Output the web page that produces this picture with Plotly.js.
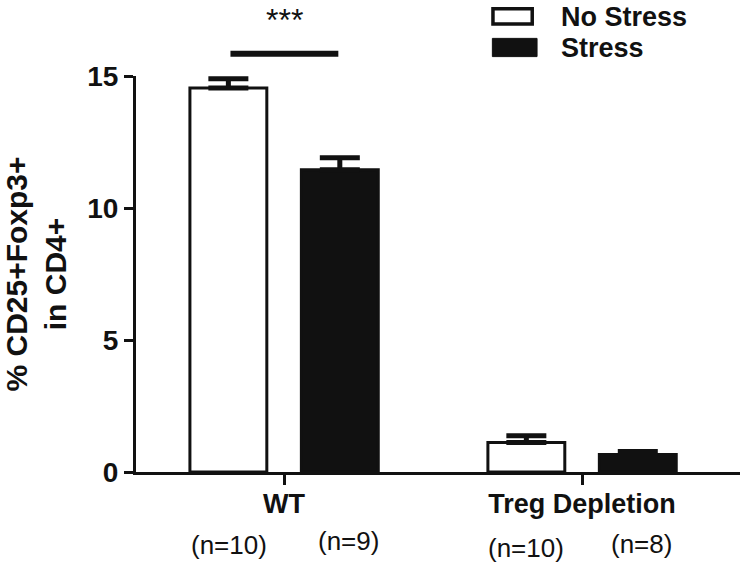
<!DOCTYPE html>
<html>
<head>
<meta charset="utf-8">
<script src="https://cdn.plot.ly/plotly-3.0.1.min.js"></script>
<style>html,body{margin:0;padding:0;background:#fff;}#chart{width:740px;height:569px;}</style>
</head>
<body>
<div id="chart"></div>
<script>
var categories = ["WT", "Treg Depletion"];
var seriesNames = ["No Stress", "Stress"];
var noStress = [14.55, 1.12];
var noStressErr = [0.35, 0.25];
var stress = [11.45, 0.66];
var stressErr = [0.45, 0.12];
var nLabels = [["(n=10)", "(n=9)"], ["(n=10)", "(n=8)"]];
var yTicks = [0, 5, 10, 15];
var sigLabel = "***";

var F = "Liberation Sans, Arial, sans-serif";

var traces = [
  {
    type: "bar", name: seriesNames[0], x: categories, y: noStress,
    marker: {color: "#ffffff", line: {color: "#111", width: 3}},
    error_y: {type: "data", array: noStressErr, arrayminus: [0, 0], symmetric: false, color: "#111", thickness: 5, width: 20},
    showlegend: false
  },
  {
    type: "bar", name: seriesNames[1], x: categories, y: stress,
    marker: {color: "#111111", line: {color: "#111", width: 3}},
    error_y: {type: "data", array: stressErr, arrayminus: [0, 0], symmetric: false, color: "#111", thickness: 5, width: 20},
    showlegend: false
  }
];

var annotations = [];
// n labels (positions relative to each category)
var nOffsets = [[-0.185, 0.215], [-0.188, 0.198]];
var nY = [[-0.184, -0.174], [-0.192, -0.182]];
for (var i = 0; i < categories.length; i++) {
  for (var j = 0; j < 2; j++) {
    annotations.push({
      text: nLabels[i][j], xref: "x", yref: "paper", x: i + nOffsets[i][j], y: nY[i][j],
      showarrow: false, font: {family: F, size: 26, color: "#111"}, xanchor: "center", yanchor: "middle"
    });
  }
}
// significance
annotations.push({text: sigLabel, xref: "x", yref: "paper", x: 0, y: 1.142, showarrow: false,
  font: {family: F, size: 32, color: "#111"}, xanchor: "center", yanchor: "middle"});
// legend texts
var legTextY = [1.149, 1.071];
for (var k = 0; k < 2; k++) {
  annotations.push({text: "<b>" + seriesNames[k] + "</b>", xref: "paper", yref: "paper",
    x: 0.700, y: legTextY[k], showarrow: false, xanchor: "left", yanchor: "middle",
    font: {family: F, size: 27, color: "#111"}});
}

var shapes = [
  {type: "line", xref: "x", yref: "paper", x0: -0.18, x1: 0.182, y0: 1.056, y1: 1.056,
   line: {color: "#111", width: 6}},
  {type: "rect", xref: "paper", yref: "paper", x0: 0.591, x1: 0.656, y0: 1.131, y1: 1.170,
   line: {color: "#111", width: 3.5}, fillcolor: "#fff"},
  {type: "rect", xref: "paper", yref: "paper", x0: 0.590, x1: 0.664, y0: 1.049, y1: 1.095,
   line: {color: "#111", width: 1}, fillcolor: "#111"}
];

var layout = {
  width: 740, height: 569,
  margin: {l: 136, r: 0, t: 76, b: 97},
  paper_bgcolor: "#fff", plot_bgcolor: "#fff",
  barmode: "group", bargap: 0.252, bargroupgap: 0.31,
  showlegend: false,
  xaxis: {
    type: "category", range: [-0.497, 1.53],
    showline: true, linecolor: "#111", linewidth: 3,
    ticks: "outside", ticklen: 10, tickwidth: 3, tickcolor: "#111",
    ticklabelstandoff: -4,
    showgrid: false, zeroline: false,
    tickfont: {family: F, size: 27, color: "#111", weight: "bold"},
    fixedrange: true
  },
  yaxis: {
    range: [0, 15], tickvals: yTicks, ticktext: yTicks.map(String),
    showline: true, linecolor: "#111", linewidth: 3,
    ticks: "outside", ticklen: 9, tickwidth: 3, tickcolor: "#111",
    showgrid: false, zeroline: false,
    tickfont: {family: F, size: 28, color: "#111", weight: "bold"},
    title: {text: "<b>% CD25+Foxp3+<br>in CD4+</b>", font: {family: F, size: 30, color: "#111"}, standoff: 14},
    fixedrange: true
  },
  annotations: annotations,
  shapes: shapes
};

Plotly.newPlot("chart", traces, layout, {displayModeBar: false, staticPlot: true});
</script>
</body>
</html>
